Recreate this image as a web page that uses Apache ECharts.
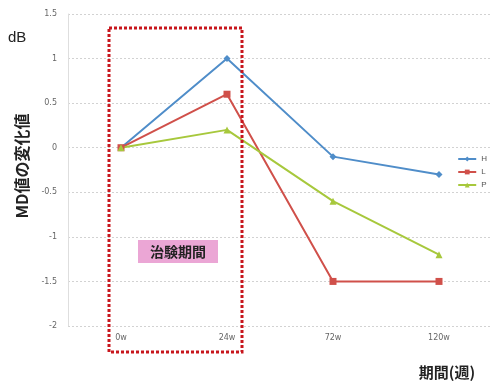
<!DOCTYPE html>
<html>
<head>
<meta charset="utf-8">
<script src="https://cdn.jsdelivr.net/npm/echarts@6/dist/echarts.min.js"></script>
<style>html,body{margin:0;padding:0;background:#fff}#c{width:495px;height:382px}</style>
</head>
<body>
<div id="c"></div>
<script>
var categories = ['0w', '24w', '72w', '120w'];
var seriesH = [0, 1, -0.1, -0.3];
var seriesL = [0, 0.6, -1.5, -1.5];
var seriesP = [0, 0.2, -0.6, -1.2];
var seriesNames = ['H', 'L', 'P'];
var yTicks = { min: -2, max: 1.5, interval: 0.5 };

var chart = echarts.init(document.getElementById('c'));
var jp = '"Noto Sans CJK JP", "Noto Sans", sans-serif';
function mk(name, data, color, symbol, size) {
  return {
    name: name, type: 'line', data: data, symbol: symbol, symbolSize: size,
    lineStyle: { color: color, width: 2 },
    itemStyle: { color: color }
  };
}
chart.setOption({
  animation: false,
  grid: { left: 68, right: 3, top: 14, bottom: 56 },
  xAxis: {
    type: 'category', data: categories, boundaryGap: true,
    axisLine: { show: false }, axisTick: { show: false },
    axisLabel: { fontSize: 8, color: '#666', margin: 8, fontFamily: 'DejaVu Sans' }
  },
  yAxis: {
    type: 'value', min: yTicks.min, max: yTicks.max, interval: yTicks.interval,
    axisLine: { show: true, lineStyle: { color: '#dedede', width: 1 } },
    axisTick: { show: false },
    axisLabel: { fontSize: 8, color: '#666', margin: 11, fontFamily: 'DejaVu Sans' },
    splitLine: { lineStyle: { color: '#d2d2d2', type: [2, 2], width: 1 } },
    name: 'MD値の変化値', nameLocation: 'middle', nameRotate: 90, nameGap: 38,
    nameTextStyle: { fontSize: 16, fontWeight: 'bold', color: '#222', fontFamily: jp, padding: [0, 0, 0, 8] }
  },
  legend: {
    orient: 'vertical', right: 3, top: 150, itemWidth: 18, itemHeight: 6, itemGap: 5,
    textStyle: { fontSize: 8, color: '#555' },
    data: seriesNames
  },
  series: [
    mk(seriesNames[0], seriesH, '#4f8dc9', 'diamond', 7),
    mk(seriesNames[1], seriesL, '#d0504a', 'rect', 7),
    mk(seriesNames[2], seriesP, '#a7c83c', 'triangle', 7)
  ],
  graphic: [
    { type: 'rect', z: 10, shape: { x: 109, y: 28, width: 133, height: 324 },
      style: { fill: null, stroke: '#c8161d', lineWidth: 3, lineDash: [3, 2] } },
    { type: 'rect', z: 10, shape: { x: 138, y: 240, width: 80, height: 23 },
      style: { fill: '#eba6d5', stroke: null } },
    { type: 'text', z: 11, x: 178, y: 251.5,
      style: { text: '治験期間', font: 'bold 14px "Noto Sans CJK JP"', fill: '#222', align: 'center', verticalAlign: 'middle' } },
    { type: 'text', z: 11, x: 8, y: 38,
      style: { text: 'dB', font: '15px "Liberation Sans"', fill: '#222', align: 'left', verticalAlign: 'middle' } },
    { type: 'text', z: 11, x: 447, y: 372,
      style: { text: '期間(週)', font: 'bold 15px "Noto Sans CJK JP"', fill: '#222', align: 'center', verticalAlign: 'middle' } }
  ]
});
</script>
</body>
</html>
